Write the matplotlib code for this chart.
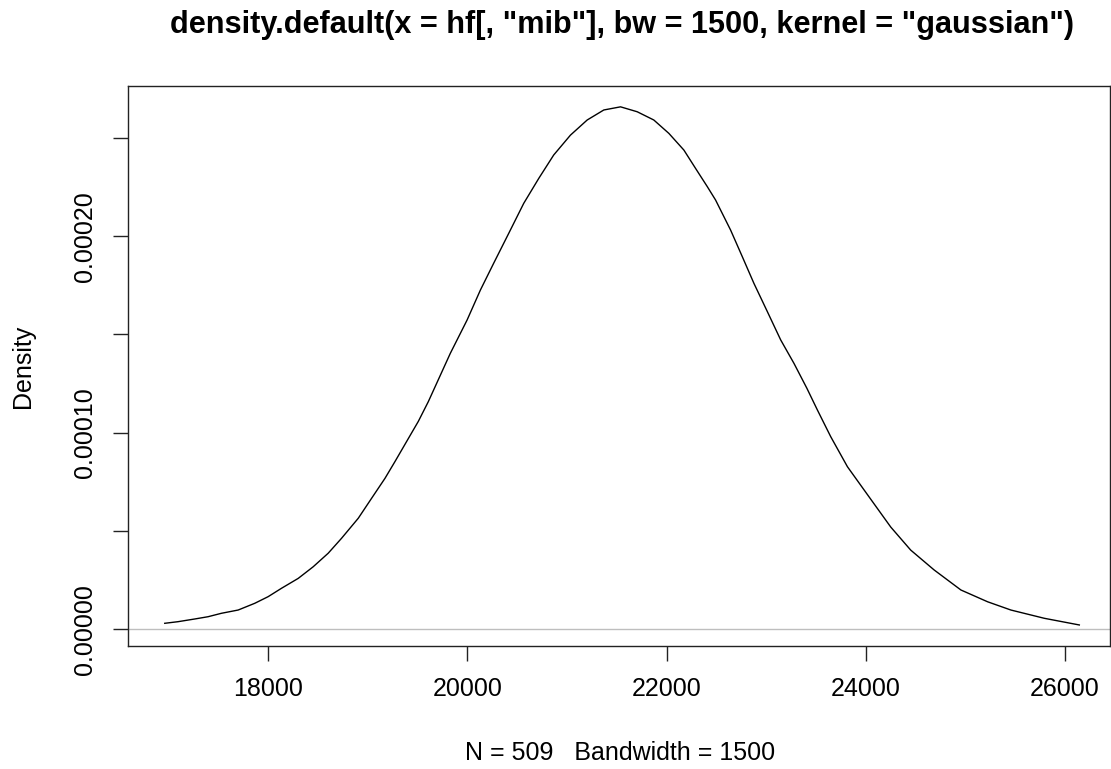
import matplotlib
matplotlib.use("Agg")
import matplotlib.pyplot as plt

plt.rcParams['font.family'] = ['Liberation Sans', 'DejaVu Sans']

# density curve (x = mib, y = density)
xs = [16962, 17095, 17263, 17397, 17531, 17699, 17866, 18000, 18134, 18302,
      18452, 18603, 18737, 18905, 19038, 19173, 19273, 19407, 19508, 19608,
      19829, 19997, 20131, 20264, 20415, 20566, 20717, 20867, 21035, 21203,
      21370, 21538, 21705, 21872, 22023, 22174, 22291, 22409, 22492, 22643,
      22761, 22877, 23012, 23146, 23279, 23409, 23514, 23648, 23816, 24017,
      24251, 24451, 24686, 24955, 25223, 25457, 25792, 26144]
ys = [3.05e-6, 3.87e-6, 5.24e-6, 6.4e-6, 8.14e-6, 9.8e-6, 1.323e-5, 1.66e-5,
      2.086e-5, 2.59e-5, 3.18e-5, 3.87e-5, 4.63e-5, 5.65e-5, 6.66e-5, 7.68e-5,
      8.53e-5, 9.7e-5, 1.058e-4, 1.158e-4, 1.404e-4, 1.573e-4, 1.726e-4,
      1.862e-4, 2.014e-4, 2.167e-4, 2.294e-4, 2.413e-4, 2.514e-4, 2.591e-4,
      2.642e-4, 2.658e-4, 2.633e-4, 2.591e-4, 2.523e-4, 2.438e-4, 2.345e-4,
      2.252e-4, 2.184e-4, 2.031e-4, 1.895e-4, 1.760e-4, 1.616e-4, 1.472e-4,
      1.353e-4, 1.226e-4, 1.116e-4, 9.80e-5, 8.27e-5, 6.85e-5, 5.20e-5,
      4.03e-5, 3.02e-5, 2.00e-5, 1.40e-5, 9.8e-6, 5.6e-6, 2.2e-6]

xticks = [18000, 20000, 22000, 24000, 26000]
yticks = [0, 0.00005, 0.00010, 0.00015, 0.00020, 0.00025]
ylabels = ["0.00000", "", "0.00010", "", "0.00020", ""]

title = 'density.default(x = hf[, "mib"], bw = 1500, kernel = "gaussian")'
xlab = "N = 509   Bandwidth = 1500"

fig = plt.figure(figsize=(11.11, 7.69), dpi=100)
ax = fig.add_axes([128/1111, (769-646)/769, (1110-128)/1111, (646-86)/769])

ax.axhline(0, color="#bebebe", lw=1)
ax.plot(xs, ys, color="black", lw=1)

ax.set_xlim(16593, 26452)
ax.set_ylim(-8.5e-6, 2.764e-4)

ax.set_xticks(xticks)
ax.set_xticklabels([str(v) for v in xticks])
ax.set_yticks(yticks)
ax.set_yticklabels(ylabels, rotation=90, va="center")

ax.tick_params(length=10.8, width=1, pad=11.5, labelsize=18, color="#222222")
for s in ax.spines.values():
    s.set_linewidth(1)
    s.set_color("#222222")

fig.text(622/1111, 1 - 25/769, title, ha="center", va="center",
         fontsize=22.1, fontweight="bold")
fig.text(620/1111, 1 - 753/769, xlab, ha="center", va="center", fontsize=18)
fig.text(23/1111, 1 - 366/769, "Density", ha="center", va="center",
         rotation=90, fontsize=18)

fig.savefig("out.png", dpi=100)
